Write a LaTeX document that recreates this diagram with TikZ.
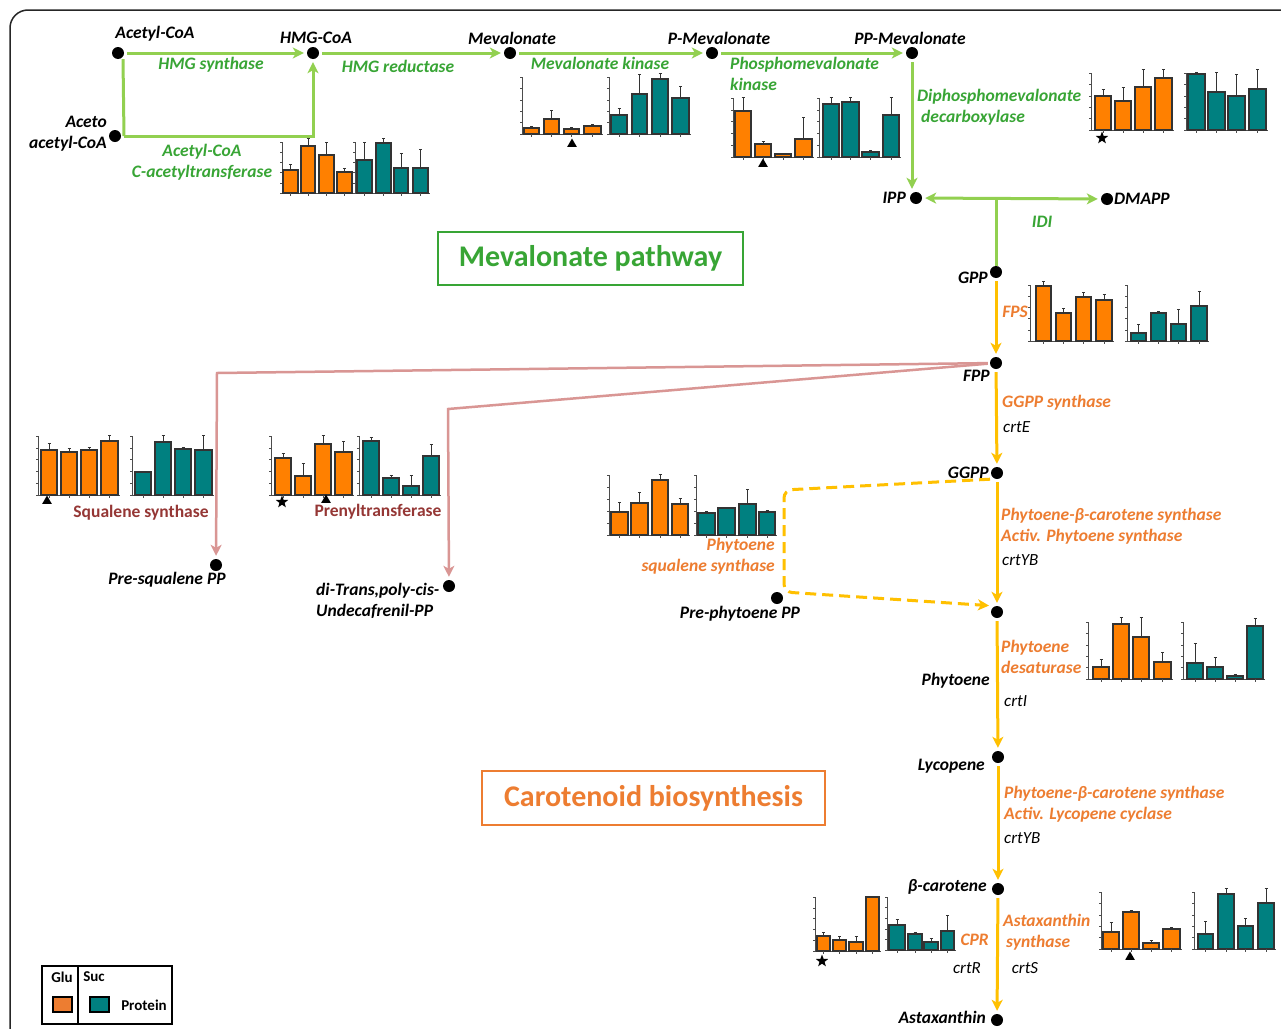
\documentclass[tikz,border=0pt]{standalone}
\usepackage{fontspec}
\setmainfont{Carlito}
\usetikzlibrary{arrows.meta,shapes.geometric}
\definecolor{glinec}{HTML}{92D050}
\definecolor{gtextc}{HTML}{38A535}
\definecolor{ylinec}{HTML}{FFC000}
\definecolor{otextc}{HTML}{ED7D31}
\definecolor{plinec}{HTML}{D99694}
\definecolor{rtextc}{HTML}{953735}
\definecolor{obarc}{HTML}{FF8000}
\definecolor{tbarc}{HTML}{008080}
\newcommand\fcpd{\fontsize{17.5}{21}\selectfont\bfseries\itshape}
\newcommand\fenz{\fontsize{17.5}{21}\selectfont\bfseries\itshape}
\newcommand\fgen{\fontsize{17}{21}\selectfont\itshape}
\newcommand\barpanel[6]{%
  \draw[axl] (#1,#3) -- (#1,#2) -- (#4,#2);
  \foreach \kk in {0,...,5}{\draw[axl] (#1,{#2-(#2-#3)*\kk/5}) -- ++(-2.5,0);}
  \foreach \xa/\xb/\yt/\ye in {#6}{%
    \draw[errl] ({(\xa+\xb)/2},\yt) -- ({(\xa+\xb)/2},\ye) ++(-1.5,0) -- ++(3,0);
    \draw[barl, fill=#5] (\xa,#2) rectangle (\xb,\yt);
    \draw[axl] ({(\xa+\xb)/2},#2) -- ++(0,2.5);
  }%
}
\tikzset{
  dot/.style={circle, fill=black, inner sep=0pt, minimum size=12pt},
  cpd/.style={font=\fcpd, inner sep=1pt, text=black},
  genz/.style={font=\fenz, inner sep=1pt, text=gtextc},
  oenz/.style={font=\fenz, inner sep=1pt, text=otextc},
  renz/.style={font=\fontsize{17.5}{21}\selectfont\bfseries, inner sep=1pt, text=rtextc},
  gene/.style={font=\fgen, inner sep=1pt, text=black},
  tip/.style={-{Stealth[length=11pt,width=11pt,inset=3pt]}},
  garrow/.style={draw=glinec, line width=3pt, tip, shorten >=3pt, shorten <=3pt},
  gplain/.style={draw=glinec, line width=3pt},
  yarrow/.style={draw=ylinec, line width=3pt, tip, shorten >=3pt, shorten <=3pt},
  parrow/.style={draw=plinec, line width=2.5pt, tip, shorten >=3pt, shorten <=2pt},
  axl/.style={draw=black!70, line width=0.6pt},
  errl/.style={draw=black!80, line width=1pt},
  barl/.style={draw=black!80, line width=1.2pt},
  trimark/.style={regular polygon, regular polygon sides=3, fill=black, inner sep=0pt, minimum size=11pt},
  starmark/.style={star, star points=5, star point ratio=2.4, fill=black, inner sep=0pt, minimum size=13pt},
  legtxt/.style={font=\fontsize{15}{17}\selectfont\bfseries, inner sep=0pt},
}
\begin{document}
\begin{tikzpicture}[x=1pt,y=-1pt]
\useasboundingbox (0,0) rectangle (1281,1028);
\clip (0,0) rectangle (1281,1028);
\fill[white] (0,0) rectangle (1281,1028);
\draw[line width=1.5pt, black!85, rounded corners=18pt] (10,10) rectangle (1330,1070);

% ---------- compound dots ----------
\node[dot] (acetyl) at (118,53) {};
\node[dot] (hmg) at (313,53) {};
\node[dot] (aceto) at (115,136) {};
\node[dot] (meva) at (510,53) {};
\node[dot] (pmeva) at (712,53) {};
\node[dot] (ppmeva) at (912,53) {};
\node[dot] (ipp) at (916,198) {};
\node[dot] (dmapp) at (1107,199) {};
\node[dot] (gpp) at (996,272) {};
\node[dot] (fpp) at (996,363) {};
\node[dot] (ggpp) at (997,473) {};
\node[dot] (prephy) at (777,598) {};
\node[dot] (phyt) at (997,612) {};
\node[dot] (lyco) at (998,757) {};
\node[dot] (bcar) at (998,889) {};
\node[dot] (asta) at (997,1020) {};
\node[dot] (presq) at (216,565) {};
\node[dot] (ditr) at (449,586) {};
\coordinate (c1) at (124,136);
\coordinate (c2) at (217,373);
\coordinate (c3) at (448,409);
\coordinate (c4) at (784,490);
\coordinate (c5) at (784,592);

% ---------- compound labels ----------
\node[cpd] (lacetyl) at (155,34) {Acetyl-CoA};
\node[cpd] (lhmg) at (316,38) {HMG-CoA};
\node[cpd, align=right, anchor=east] (laceto) at (108,134) {Aceto\\acetyl-CoA};
\node[cpd] (lmeva) at (512,38) {Mevalonate};
\node[cpd] (lpmeva) at (719,38) {P-Mevalonate};
\node[cpd] (lppmeva) at (910,38) {PP-Mevalonate};
\node[cpd, anchor=east] (lipp) at (907,198) {IPP};
\node[cpd, anchor=west] (ldmapp) at (1113,199) {DMAPP};
\node[cpd, anchor=east] (lgpp) at (989,278) {GPP};
\node[cpd, anchor=east] (lfpp) at (991,376) {FPP};
\node[cpd, anchor=east] (lggpp) at (990,473) {GGPP};
\node[cpd] (lprephy) at (740,614) {Pre-phytoene PP};
\node[cpd, anchor=east] (lphyt) at (991,681) {Phytoene};
\node[cpd, anchor=east] (llyco) at (986,766) {Lycopene};
\node[cpd, anchor=east] (lbcar) at (988,887) {β-carotene};
\node[cpd, anchor=east] (lasta) at (987,1017) {Astaxanthin};
\node[cpd] (lpresq) at (167,580) {Pre-squalene PP};
\node[cpd, align=left, anchor=west] (lditr) at (315,601) {di-Trans,poly-cis-\\Undecafrenil-PP};

% ---------- green (mevalonate) connectors ----------
\draw[garrow] (acetyl) -- (hmg);
\draw[gplain] ([xshift=5pt]acetyl.south) -- (c1);
\draw[garrow, shorten <=0pt] (c1) -| (hmg.south);
\draw[garrow] (hmg) -- (meva);
\draw[garrow] (meva) -- (pmeva);
\draw[garrow] (pmeva) -- (ppmeva);
\draw[garrow] (ppmeva) -- (ipp.north -| ppmeva);
\draw[gplain] (gpp.north |- ipp) -- (gpp.north);
\draw[garrow, {Stealth[length=11pt,width=11pt,inset=3pt]}-{Stealth[length=11pt,width=11pt,inset=3pt]}] (ipp) -- (dmapp);

\node[genz] (ehmgs) at (211,65) {HMG synthase};
\node[genz] (ehmgr) at (398,66) {HMG reductase};
\node[genz, align=center] (eacat) at (202,162) {Acetyl-CoA\\C-acetyltransferase};
\node[genz] (emk) at (600,63) {Mevalonate kinase};
\node[genz, align=left, anchor=west] (epmk) at (729,74) {Phosphomevalonate\\kinase};
\node[genz, align=left, anchor=west] (edmd) at (916,107) {Diphosphomevalonate\\\hspace*{4pt}decarboxylase};
\node[genz] (eidi) at (1042,222) {IDI};

% ---------- yellow (carotenoid) connectors ----------
\draw[yarrow] (gpp) -- (fpp);
\draw[yarrow] (fpp) -- (ggpp);
\draw[yarrow] (ggpp) -- (phyt);
\draw[yarrow] (phyt) -- (lyco);
\draw[yarrow] (lyco) -- (bcar);
\draw[yarrow] (bcar) -- (asta);
\draw[draw=ylinec, line width=3pt, dash pattern=on 11pt off 6pt, rounded corners=8pt, tip, shorten >=3pt]
  ([xshift=-7pt]ggpp.south) -- (c4) -- (c5) -- ([xshift=-5pt]phyt.north);

\node[oenz] (efps) at (1015,312) {FPS};
\node[oenz, anchor=west] (eggs) at (1001,403) {GGPP synthase};
\node[gene, anchor=west] (gcrte) at (1002,427) {crtE};
\node[oenz, align=left, anchor=west] (epbs1) at (1000,526) {Phytoene-β-carotene synthase\\Activ. Phytoene synthase};
\node[gene, anchor=west] (gcrtyb1) at (1001,560) {crtYB};
\node[oenz, align=right, anchor=east] (epss) at (776,556) {Phytoene\\squalene synthase};
\node[oenz, align=left, anchor=west] (epds) at (1000,657) {Phytoene\\desaturase};
\node[gene, anchor=west] (gcrti) at (1003,701) {crtI};
\node[oenz, align=left, anchor=west] (epbs2) at (1003,804) {Phytoene-β-carotene synthase\\Activ. Lycopene cyclase};
\node[gene, anchor=west] (gcrtyb2) at (1003,838) {crtYB};
\node[oenz, align=left, anchor=west] (eas) at (1002,932) {Astaxanthin\\\hspace*{3pt}synthase};
\node[oenz, anchor=east] (ecpr) at (990,940) {CPR};
\node[gene] (gcrtr) at (967,968) {crtR};
\node[gene] (gcrts) at (1025,968) {crtS};

% ---------- pink branches ----------
\draw[parrow] (fpp) -- (c2) -- (presq);
\draw[parrow] (fpp) -- (c3) -- (ditr);
\node[renz] (esqs) at (141,513) {Squalene synthase};
\node[renz] (eprt) at (378,512) {Prenyltransferase};

% ---------- title boxes ----------
\node[draw=gtextc, line width=1.5pt, text=gtextc, font=\fontsize{30}{34}\selectfont\bfseries,
  minimum width=305pt, minimum height=53pt, inner sep=0pt] (tmev) at (590.5,258.5) {Mevalonate pathway};
\node[draw=otextc, line width=1.5pt, text=otextc, font=\fontsize{30}{34}\selectfont\bfseries,
  minimum width=343pt, minimum height=54pt, inner sep=0pt] (tcar) at (653.5,798) {Carotenoid biosynthesis};

% ---------- bar charts ----------
\barpanel{282}{193}{142}{354}{obarc}{283/298/170/164, 301/315/146/138, 319/334/155/142, 337/352/172/168}
\barpanel{355}{193}{142}{430}{tbarc}{357/372/160/142, 376/391/143/138, 394/408/168/153, 413/428/168/149}

\barpanel{522}{134}{77}{603}{obarc}{524/539/128/126, 544/559/119/110, 564/579/129/127, 584/601/126/124}
\barpanel{609}{134}{77}{691}{tbarc}{611/627/115/108, 632/647/94/74, 652/668/79/73, 672/689/98/86}
\node[trimark] (m1) at (572,144) {};

\barpanel{733}{157}{98}{814}{obarc}{735/751/111/97, 755/771/144/141, 775/791/154/153, 795/812/139/117}
\barpanel{819}{157}{98}{901}{tbarc}{823/839/104/97, 842/859/102/97, 862/879/152/150, 883/899/115/97}
\node[trimark] (m2) at (763,164) {};

\barpanel{1091}{130}{73}{1174}{obarc}{1095/1111/96/89, 1115/1131/101/87, 1135/1151/87/69, 1155/1172/78/69}
\barpanel{1186}{130}{73}{1268}{tbarc}{1188/1205/74/72, 1208/1225/92/72, 1228/1245/96/74, 1249/1266/89/69}
\node[starmark] (m3) at (1102,138) {};

\barpanel{1030}{341}{285}{1114}{obarc}{1036/1051/286/281, 1056/1071/313/308, 1076/1091/297/292, 1096/1112/300/294}
\barpanel{1127}{341}{285}{1209}{tbarc}{1131/1146/333/324, 1151/1166/313/311, 1171/1186/324/309, 1191/1207/306/291}

\barpanel{38}{495}{436}{120}{obarc}{41/57/450/443, 61/77/452/448, 81/97/450/447, 101/118/441/435}
\barpanel{132}{495}{436}{214}{tbarc}{135/151/472/471, 155/171/442/435, 175/191/449/447, 195/212/450/435}
\node[trimark] (m4) at (47,501) {};

\barpanel{271}{495}{436}{354}{obarc}{275/291/458/453, 295/311/476/463, 315/331/444/435, 335/352/452/441}
\barpanel{359}{495}{436}{441}{tbarc}{363/379/441/437, 383/399/478/475, 403/419/486/475, 423/439/456/444}
\node[starmark] (m5) at (282,502) {};
\node[trimark] (m6) at (326,500) {};

\barpanel{609}{535}{475}{690}{obarc}{611/628/512/502, 631/648/503/492, 652/668/480/474, 672/688/504/498}
\barpanel{696}{535}{475}{777}{tbarc}{698/715/513/511, 718/735/508/507, 739/756/504/489, 759/775/512/510}

\barpanel{1088}{679}{622}{1173}{obarc}{1093/1109/667/659, 1113/1129/624/617, 1133/1149/637/617, 1154/1171/662/652}
\barpanel{1183}{679}{622}{1265}{tbarc}{1187/1203/663/643, 1207/1223/667/657, 1227/1243/676/674, 1247/1263/626/618}

\barpanel{815}{951}{897}{881}{obarc}{817/830/936/932, 833/846/940/936, 849/863/942/936, 866/879/897/897}
\barpanel{887}{950}{897}{956}{tbarc}{889/905/925/919, 908/922/934/932, 924/938/942/938, 941/954/931/915}
\node[starmark] (m7) at (822,961) {};

\barpanel{1101}{949}{892}{1182}{obarc}{1103/1119/932/922, 1123/1139/912/910, 1143/1159/943/940, 1163/1180/929/927}
\barpanel{1194}{949}{892}{1276}{tbarc}{1198/1213/934/921, 1218/1234/894/888, 1238/1253/926/918, 1258/1274/903/888}
\node[trimark] (m8) at (1130,957) {};

% ---------- legend ----------
\node[draw=black, line width=1.5pt, minimum width=130pt, minimum height=58pt, inner sep=0pt] (legend) at (107,995) {};
\coordinate (ldiv) at (78,995);
\draw[line width=1.5pt] (ldiv |- legend.north) -- (ldiv |- legend.south);
\node[legtxt] (lglu) at (62,977) {Glu};
\node[legtxt] (lsuc) at (94,977) {Suc};
\node[draw=black, line width=1.2pt, fill=otextc, minimum width=19pt, minimum height=15pt, inner sep=0pt] (sqo) at (62.5,1004.5) {};
\node[draw=black, line width=1.2pt, fill=tbarc, minimum width=19pt, minimum height=15pt, inner sep=0pt] (sqt) at (99.5,1004.5) {};
\node[legtxt] (lprot) at (144,1005) {Protein};
\end{tikzpicture}
\end{document}
